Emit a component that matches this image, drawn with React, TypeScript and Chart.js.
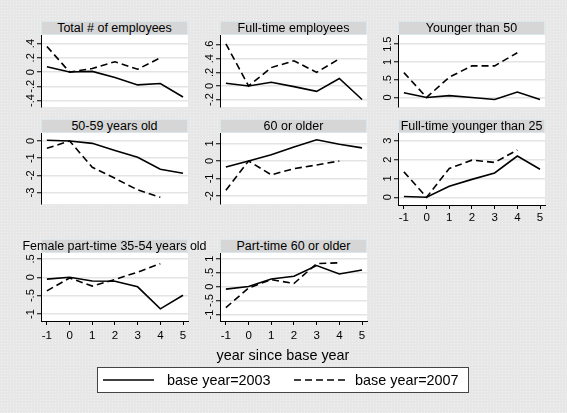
import React, { useEffect, useRef } from "react";
import { Chart, registerables } from "chart.js";

Chart.register(...registerables);

// ---------- data ----------
const yearsSolid = [-1, 0, 1, 2, 3, 4, 5];
const yearsDashed = [-1, 0, 1, 2, 3, 4];
const xTicks = [-1, 0, 1, 2, 3, 4, 5];

const seriesNames = ["base year=2003", "base year=2007"];
const xAxisTitle = "year since base year";

const titles = [
  "Total # of employees",
  "Full-time employees",
  "Younger than 50",
  "50-59 years old",
  "60 or older",
  "Full-time younger than 25",
  "Female part-time 35-54 years old",
  "Part-time 60 or older",
];

const solidTotal = [0.075, 0.0, 0.01, -0.075, -0.18, -0.16, -0.35];
const dashedTotal = [0.36, 0.0, 0.05, 0.145, 0.04, 0.2];
const ticksTotal = [-0.4, -0.2, 0, 0.2, 0.4];

const solidFullTime = [0.04, 0.0, 0.055, -0.01, -0.08, 0.11, -0.2];
const dashedFullTime = [0.62, 0.0, 0.27, 0.37, 0.2, 0.4];
const ticksFullTime = [-0.2, 0, 0.2, 0.4, 0.6];

const solidYounger50 = [0.13, 0.0, 0.05, 0.0, -0.06, 0.15, -0.06];
const dashedYounger50 = [0.7, 0.0, 0.57, 0.89, 0.89, 1.26];
const ticksYounger50 = [0, 0.5, 1, 1.5];

const solid5059 = [0.04, 0.0, -0.14, -0.56, -0.95, -1.64, -1.88];
const dashed5059 = [-0.43, 0.0, -1.53, -2.17, -2.84, -3.27];
const ticks5059 = [-3, -2, -1, 0];

const solid60 = [-0.35, 0.0, 0.35, 0.8, 1.21, 0.96, 0.75];
const dashed60 = [-1.67, 0.0, -0.79, -0.44, -0.23, 0.0];
const ticks60 = [-2, -1, 0, 1];

const solidFTYoung = [0.04, 0.0, 0.59, 0.95, 1.29, 2.19, 1.49];
const dashedFTYoung = [1.35, 0.0, 1.53, 1.97, 1.85, 2.51];
const ticksFTYoung = [0, 1, 2, 3];

const solidFemalePT = [-0.05, 0.0, -0.1, -0.11, -0.26, -0.86, -0.49];
const dashedFemalePT = [-0.37, -0.02, -0.24, -0.06, 0.14, 0.37];
const ticksFemalePT = [-1, -0.5, 0, 0.5];

const solidPT60 = [-0.09, 0.0, 0.27, 0.37, 0.75, 0.45, 0.59];
const dashedPT60 = [-0.75, -0.05, 0.25, 0.11, 0.82, 0.85];
const ticksPT60 = [-1, -0.5, 0, 0.5, 1];

// ---------- layout ----------
const FONT = "'Liberation Sans', Arial, Helvetica, sans-serif";
const COL_LEFT = [41, 220, 398];
const PLOT_W = 147;
const ROWS = [
  { top: 35, bottom: 107 },
  { top: 133, bottom: 204 },
  { top: 253, bottom: 321 },
];
const PAD = 10;
const YAXIS_W = 30;
const XAXIS_H = 30;
const X_MIN = -1.26;
const X_MAX = 5.22;

type Panel = {
  title: string;
  solid: number[];
  dashed: number[];
  ticks: number[];
  min: number;
  max: number;
  col: number;
  row: number;
  xAxis: boolean;
  bottomAdj?: number;
  xLabelPad?: number;
};

const panels: Panel[] = [
  { title: titles[0], solid: solidTotal, dashed: dashedTotal, ticks: ticksTotal, min: -0.49, max: 0.52, col: 0, row: 0, xAxis: false },
  { title: titles[1], solid: solidFullTime, dashed: dashedFullTime, ticks: ticksFullTime, min: -0.31, max: 0.75, col: 1, row: 0, xAxis: false },
  { title: titles[2], solid: solidYounger50, dashed: dashedYounger50, ticks: ticksYounger50, min: -0.27, max: 1.76, col: 2, row: 0, xAxis: false },
  { title: titles[3], solid: solid5059, dashed: dashed5059, ticks: ticks5059, min: -3.66, max: 0.46, col: 0, row: 1, xAxis: false },
  { title: titles[4], solid: solid60, dashed: dashed60, ticks: ticks60, min: -2.46, max: 1.6, col: 1, row: 1, xAxis: false },
  { title: titles[5], solid: solidFTYoung, dashed: dashedFTYoung, ticks: ticksFTYoung, min: -0.41, max: 3.41, col: 2, row: 1, xAxis: true, bottomAdj: 1, xLabelPad: 1.5 },
  { title: titles[6], solid: solidFemalePT, dashed: dashedFemalePT, ticks: ticksFemalePT, min: -1.19, max: 0.66, col: 0, row: 2, xAxis: true, xLabelPad: 3.5 },
  { title: titles[7], solid: solidPT60, dashed: dashedPT60, ticks: ticksPT60, min: -1.23, max: 1.2, col: 1, row: 2, xAxis: true, xLabelPad: 3.5 },
];

const fmt = (v: number) => {
  const s = String(Math.round(v * 100) / 100);
  return s.replace(/^(-?)0\./, "$1.");
};

const plotBg = {
  id: "plotBg",
  beforeDraw(chart: any) {
    const { ctx, chartArea } = chart;
    ctx.save();
    ctx.fillStyle = "#ffffff";
    ctx.fillRect(chartArea.left, chartArea.top, chartArea.right - chartArea.left, chartArea.bottom - chartArea.top);
    ctx.restore();
  },
};

function measureWidest(labels: string[], size: number) {
  const c = document.createElement("canvas");
  const ctx = c.getContext("2d")!;
  ctx.font = `${size}px ${FONT}`;
  return Math.max(...labels.map((l) => ctx.measureText(l).width));
}

function PanelChart({ p }: { p: Panel }) {
  const ref = useRef<HTMLCanvasElement>(null);
  const left = COL_LEFT[p.col];
  const top = ROWS[p.row].top;
  const bottom = ROWS[p.row].bottom + (p.bottomAdj || 0);
  const plotH = bottom - top;
  const w = PAD + YAXIS_W + PLOT_W + PAD;
  const h = PAD + plotH + (p.xAxis ? XAXIS_H : 0) + PAD;

  useEffect(() => {
    if (!ref.current) return;
    const yFont = 11;
    const widest = measureWidest(p.ticks.map(fmt), yFont);
    const yPad = 10.5 - 4 - widest / 2;
    const chart = new Chart(ref.current, {
      type: "line",
      data: {
        datasets: [
          {
            label: seriesNames[0],
            data: yearsSolid.map((x, i) => ({ x, y: p.solid[i] })),
            borderColor: "#000",
            borderWidth: 1.6,
            pointRadius: 0,
            tension: 0,
            fill: false,
          },
          {
            label: seriesNames[1],
            data: yearsDashed.map((x, i) => ({ x, y: p.dashed[i] })),
            borderColor: "#000",
            borderWidth: 1.6,
            borderDash: [7, 4],
            pointRadius: 0,
            tension: 0,
            fill: false,
          },
        ],
      },
      options: {
        animation: false,
        responsive: false,
        events: [],
        layout: { padding: PAD },
        plugins: { legend: { display: false }, tooltip: { enabled: false } },
        scales: {
          x: {
            type: "linear",
            min: X_MIN,
            max: X_MAX,
            display: p.xAxis,
            afterBuildTicks: (s: any) => {
              s.ticks = xTicks.map((v) => ({ value: v }));
            },
            ...(p.xAxis
              ? {
                  afterFit: (s: any) => {
                    s.height = XAXIS_H;
                  },
                }
              : {}),
            grid: {
              drawOnChartArea: false,
              drawTicks: true,
              tickLength: 4,
              tickColor: "#000",
              tickWidth: 1,
            },
            border: { display: true, color: "#000", width: 1 },
            ticks: {
              color: "#000",
              font: { family: FONT, size: 11.5 },
              padding: p.xLabelPad ?? 2,
              maxRotation: 0,
              minRotation: 0,
              autoSkip: false,
              callback: (v: any) => fmt(Number(v)),
            },
          },
          y: {
            type: "linear",
            min: p.min,
            max: p.max,
            afterBuildTicks: (s: any) => {
              s.ticks = p.ticks.map((v) => ({ value: v }));
            },
            afterFit: (s: any) => {
              s.width = YAXIS_W;
            },
            grid: {
              color: "#e4e4e4",
              lineWidth: 1.5,
              drawTicks: true,
              tickLength: 4,
              tickColor: "#000",
              tickWidth: 1,
            },
            border: { display: true, color: "#000", width: 1 },
            ticks: {
              color: "#000",
              font: { family: FONT, size: yFont },
              minRotation: 90,
              maxRotation: 90,
              crossAlign: "center",
              padding: yPad,
              autoSkip: false,
              callback: (v: any) => fmt(Number(v)),
            },
          },
        },
      } as any,
      plugins: [plotBg],
    });
    return () => chart.destroy();
  }, []);

  return (
    <>
      <canvas
        ref={ref}
        width={w}
        height={h}
        style={{
          position: "absolute",
          left: left - YAXIS_W - PAD,
          top: top - PAD,
          width: w,
          height: h,
        }}
      />
      <div
        style={{
          position: "absolute",
          left,
          top: top - 14,
          width: PLOT_W,
          height: 14,
          boxSizing: "border-box",
          background: "#d6d6d6",
          border: "1px solid #dbe7ec",
          display: "flex",
          alignItems: "center",
          justifyContent: "center",
          whiteSpace: "nowrap",
          overflow: "visible",
          fontFamily: FONT,
          fontSize: 12.5,
          color: "#000",
          zIndex: 2,
        }}
      >
        {p.title}
      </div>
    </>
  );
}

function LineSample({ dashed }: { dashed: boolean }) {
  return (
    <svg width={52} height={6} style={{ display: "block" }}>
      <line
        x1={0}
        y1={3}
        x2={51}
        y2={3}
        stroke="#000"
        strokeWidth={1.6}
        strokeDasharray={dashed ? "7 4" : undefined}
      />
    </svg>
  );
}

export default function App() {
  return (
    <div
      style={{
        position: "fixed",
        left: 0,
        top: 0,
        width: 567,
        height: 413,
        overflow: "hidden",
        backgroundColor: "#e7e7e7",
        backgroundImage: "radial-gradient(#f1f1f1 0.6px, transparent 0.9px)",
        backgroundSize: "3px 3px",
        fontFamily: FONT,
      }}
    >
      {panels.map((p, i) => (
        <PanelChart key={i} p={p} />
      ))}
      <div
        style={{
          position: "absolute",
          left: 183,
          top: 346,
          width: 200,
          textAlign: "center",
          fontSize: 14.4,
          lineHeight: "18px",
          color: "#000",
        }}
      >
        {xAxisTitle}
      </div>
      <div
        style={{
          position: "absolute",
          left: 97,
          top: 367,
          width: 372,
          height: 26,
          boxSizing: "border-box",
          background: "#fff",
          border: "1px solid #444",
        }}
      >
        <div style={{ position: "absolute", left: 5, top: 9 }}>
          <LineSample dashed={false} />
        </div>
        <div style={{ position: "absolute", left: 69, top: 3, fontSize: 14.4, lineHeight: "18px", whiteSpace: "nowrap" }}>
          {seriesNames[0]}
        </div>
        <div style={{ position: "absolute", left: 196, top: 9 }}>
          <LineSample dashed={true} />
        </div>
        <div style={{ position: "absolute", left: 257, top: 3, fontSize: 14.4, lineHeight: "18px", whiteSpace: "nowrap" }}>
          {seriesNames[1]}
        </div>
      </div>
    </div>
  );
}
